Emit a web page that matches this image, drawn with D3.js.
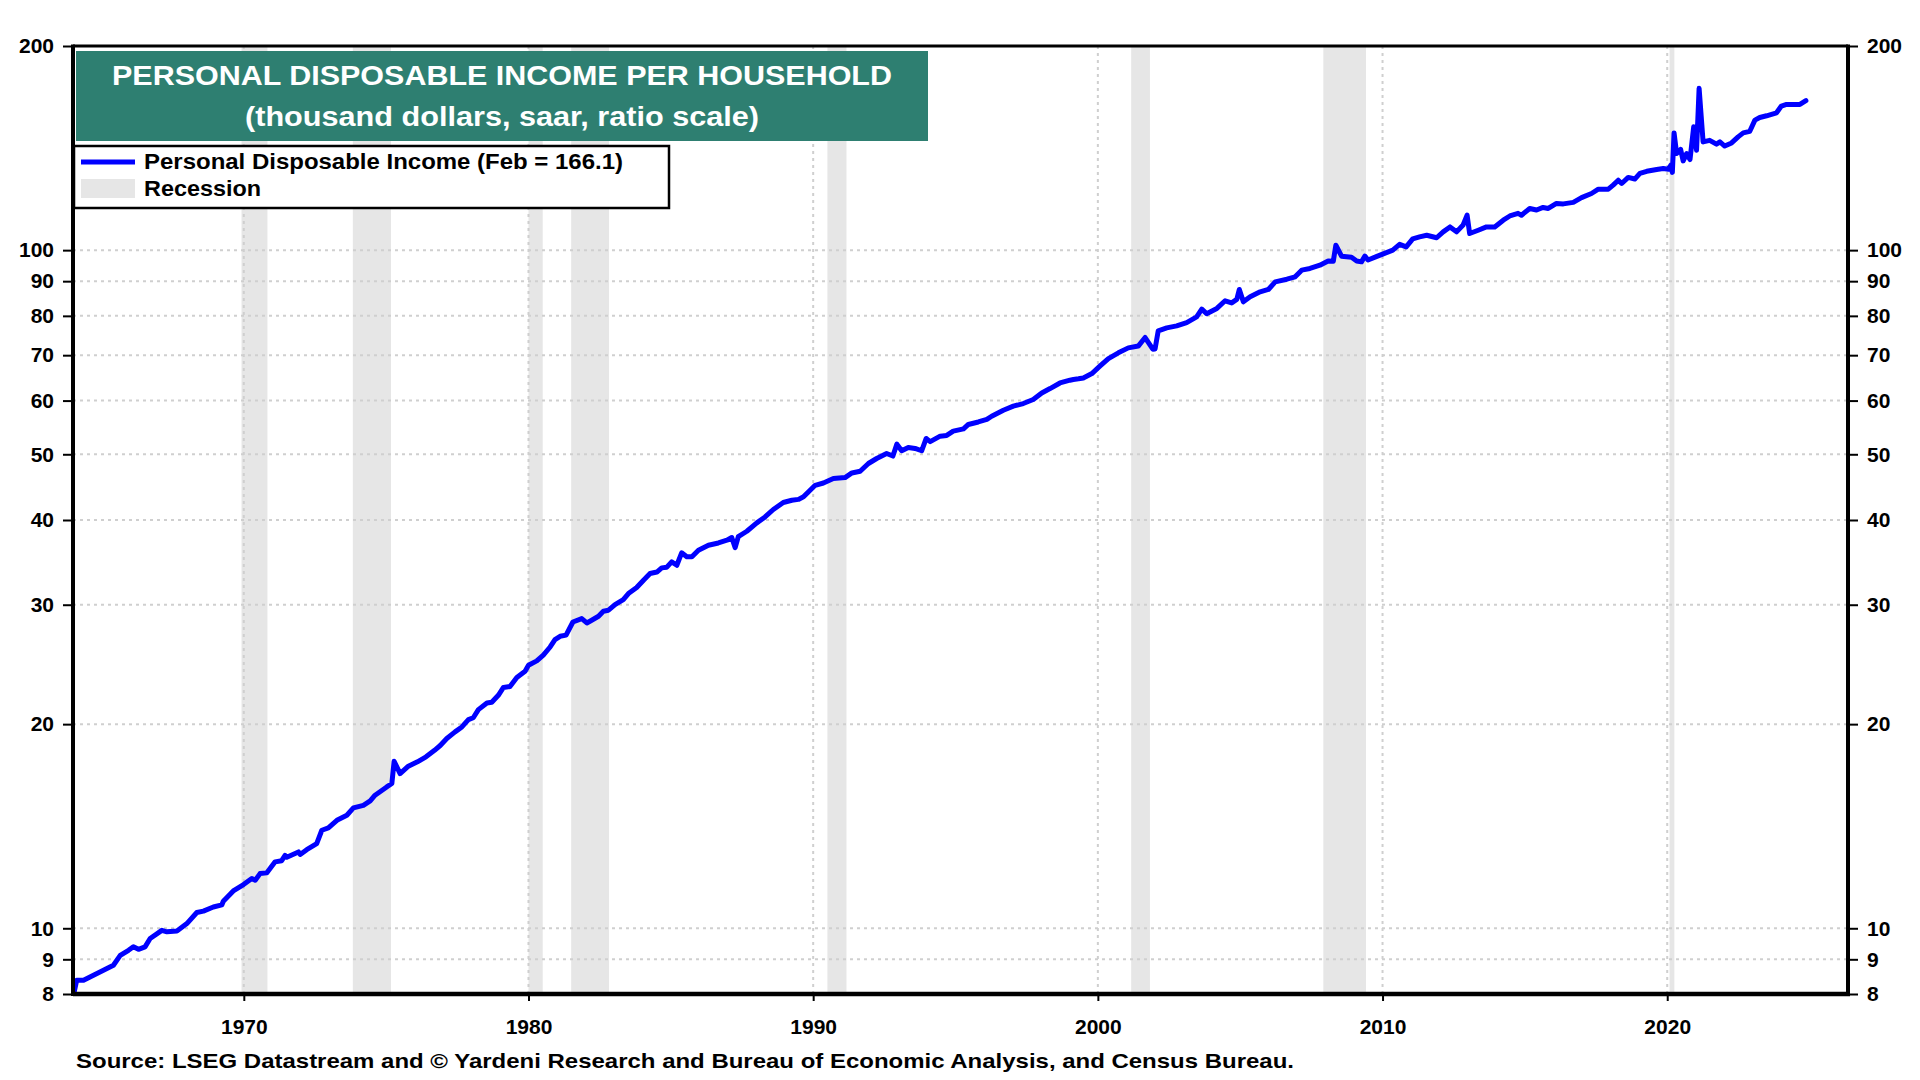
<!DOCTYPE html>
<html>
<head>
<meta charset="utf-8">
<script src="https://cdn.jsdelivr.net/npm/d3@7"></script>
<style>
  html, body { margin: 0; padding: 0; background: #ffffff; }
  svg { display: block; }
  text { font-family: "Liberation Sans", Arial, sans-serif; font-weight: bold; }
</style>
</head>
<body>
<svg id="chart" width="1920" height="1080"></svg>
<script>
// ---------- DATA ----------
const years = [
  1964.04,1964.13,1964.37,1965.07,1965.42,1965.66,1965.95,1966.12,1966.30,1966.53,1966.71,
  1967.12,1967.30,1967.65,1968.00,1968.35,1968.58,1968.93,1969.23,1969.28,1969.63,1969.99,
  1970.28,1970.40,1970.57,1970.81,1971.10,1971.33,1971.45,1971.51,1971.92,1971.98,1972.21,
  1972.56,1972.74,1972.97,1973.27,1973.62,1973.85,1974.20,1974.44,1974.61,1975.02,1975.20,
  1975.28,1975.49,1975.78,1976.10,1976.40,1976.70,1976.90,1977.13,1977.42,1977.66,1977.89,
  1978.06,1978.24,1978.54,1978.71,1978.94,1979.12,1979.35,1979.59,1979.88,1980.00,1980.29,
  1980.52,1980.76,1980.93,1981.11,1981.32,1981.56,1981.87,1982.05,1982.22,1982.46,1982.63,
  1982.81,1983.04,1983.33,1983.51,1983.80,1984.04,1984.27,1984.51,1984.68,1984.86,1985.03,
  1985.21,1985.38,1985.56,1985.74,1985.97,1986.32,1986.67,1986.97,1987.14,1987.26,1987.37,
  1987.67,1988.02,1988.31,1988.60,1988.95,1989.25,1989.48,1989.66,1989.83,1990.07,1990.36,
  1990.71,1991.12,1991.36,1991.65,1991.94,1992.23,1992.58,1992.80,1992.94,1993.11,1993.34,
  1993.58,1993.81,1993.97,1994.11,1994.46,1994.69,1994.92,1995.28,1995.45,1995.80,1996.10,
  1996.27,1996.68,1997.03,1997.38,1997.73,1998.03,1998.32,1998.67,1999.02,1999.14,1999.32,
  1999.49,1999.79,2000.08,2000.37,2000.72,2001.07,2001.42,2001.66,2001.93,2002.01,2002.12,
  2002.42,2002.77,2003.12,2003.47,2003.65,2003.82,2004.18,2004.47,2004.70,2004.88,2004.97,
  2005.11,2005.35,2005.70,2005.99,2006.23,2006.64,2006.93,2007.16,2007.45,2007.80,2008.09,
  2008.27,2008.36,2008.56,2008.91,2009.09,2009.26,2009.38,2009.49,2009.78,2010.07,2010.36,
  2010.60,2010.83,2011.06,2011.30,2011.55,2011.90,2012.13,2012.37,2012.60,2012.83,2012.97,
  2013.06,2013.36,2013.65,2013.94,2014.24,2014.47,2014.76,2014.88,2015.17,2015.41,2015.64,
  2015.82,2016.11,2016.35,2016.70,2016.99,2017.34,2017.58,2017.93,2018.10,2018.28,2018.40,
  2018.63,2018.86,2019.04,2019.28,2019.63,2019.86,2020.04,2020.13,2020.18,2020.24,2020.33,
  2020.47,2020.56,2020.68,2020.80,2020.93,2021.03,2021.12,2021.26,2021.49,2021.73,2021.85,
  2022.02,2022.26,2022.49,2022.67,2022.90,2023.08,2023.25,2023.49,2023.84,2024.01,2024.19,
  2024.66,2024.87
];
const income = [
  8.05,8.38,8.38,8.67,8.82,9.12,9.28,9.39,9.31,9.39,9.66,
  9.93,9.88,9.91,10.16,10.55,10.60,10.75,10.83,10.96,11.35,11.60,
  11.84,11.77,12.04,12.07,12.53,12.58,12.81,12.73,12.96,12.85,13.06,
  13.33,13.95,14.06,14.43,14.68,15.05,15.18,15.41,15.71,16.16,16.35,
  17.63,16.91,17.34,17.6,17.9,18.3,18.6,19.05,19.48,19.81,20.31,
  20.44,21.01,21.49,21.54,22.06,22.65,22.72,23.44,23.94,24.43,24.79,
  25.28,25.99,26.65,26.95,27.06,28.29,28.62,28.20,28.46,28.85,29.35,
  29.45,30.02,30.53,31.16,31.80,32.60,33.35,33.52,34.00,34.08,34.70,
  34.30,35.78,35.30,35.30,36.10,36.72,37.00,37.35,37.69,36.42,37.80,
  38.50,39.61,40.42,41.45,42.45,42.78,42.90,43.27,44.00,45.00,45.35,
  46.04,46.20,46.93,47.20,48.46,49.29,50.13,49.70,51.75,50.60,51.17,
  51.00,50.60,52.76,52.20,53.17,53.30,54.08,54.50,55.33,55.80,56.28,
  56.90,58.07,58.87,59.40,60.22,61.58,62.50,63.70,64.30,64.45,64.60,
  64.80,65.77,67.50,69.20,70.56,71.76,72.20,74.33,71.45,71.50,76.03,
  76.80,77.33,78.20,79.73,81.85,80.60,82.04,84.20,83.60,84.60,87.50,
  83.90,85.35,86.80,87.50,89.80,90.60,91.34,93.43,93.97,95.03,96.40,
  96.30,101.7,97.98,97.60,96.40,96.10,98.00,96.70,97.80,98.90,100.0,
  102.0,101.1,103.9,104.6,105.2,104.3,106.4,108.2,106.4,108.9,112.6,
  105.8,107.0,108.2,108.2,110.7,112.3,113.3,112.6,115.2,114.6,115.6,
  115.2,117.2,117.0,117.6,119.5,121.2,123.0,123.0,124.7,126.8,125.4,
  128.0,127.3,129.8,130.7,131.5,131.9,131.6,133.5,130.2,148.9,138.8,
  140.8,135.4,138.8,136.0,152.0,140.4,173.2,144.4,145.2,143.3,144.4,
  142.4,143.9,146.9,148.9,149.7,155.5,156.9,157.8,159.4,163.1,164.0,
  164.0,166.1
];
const recessionStart = [1969.92, 1973.83, 1980.00, 1981.50, 1990.50, 2001.17, 2007.92, 2020.08];
const recessionEnd   = [1970.83, 1975.17, 1980.50, 1982.83, 1991.17, 2001.83, 2009.42, 2020.25];
const yTickValues = [8, 9, 10, 20, 30, 40, 50, 60, 70, 80, 90, 100, 200];
const yGridValues = [9, 10, 20, 30, 40, 50, 60, 70, 80, 90, 100];
const xTickValues = [1970, 1980, 1990, 2000, 2010, 2020];
const titleLines = ["PERSONAL DISPOSABLE INCOME PER HOUSEHOLD", "(thousand dollars, saar, ratio scale)"];
const legendLabels = ["Personal Disposable Income (Feb = 166.1)", "Recession"];
const sourceText = "Source: LSEG Datastream and \u00A9 Yardeni Research and Bureau of Economic Analysis, and Census Bureau.";

// ---------- LAYOUT ----------
const L = 73, R = 1848, T = 46, B = 994;
const svg = d3.select("#chart");
const x = d3.scaleLinear().domain([1964.0, 2026.35]).range([L, R]);
const y = d3.scaleLog().domain([8, 200]).range([B, T]);

const gridColor = "#cfcfcf";
const recColor = "#e6e6e6";

// recession bands
svg.append("g").selectAll("rect")
  .data(recessionStart.map((s, i) => [s, recessionEnd[i]]))
  .join("rect")
  .attr("x", d => x(d[0]))
  .attr("width", d => x(d[1]) - x(d[0]))
  .attr("y", T).attr("height", B - T)
  .attr("fill", recColor);

// horizontal gridlines
svg.append("g").selectAll("line")
  .data(yGridValues).join("line")
  .attr("x1", L).attr("x2", R)
  .attr("y1", d => y(d)).attr("y2", d => y(d))
  .attr("stroke", gridColor).attr("stroke-width", 2)
  .attr("stroke-dasharray", "3,4");

// vertical gridlines
svg.append("g").selectAll("line")
  .data(xTickValues).join("line")
  .attr("x1", d => x(d)).attr("x2", d => x(d))
  .attr("y1", T).attr("y2", B)
  .attr("stroke", gridColor).attr("stroke-width", 2)
  .attr("stroke-dasharray", "3,4");

// data line
const line = d3.line().x((d, i) => x(years[i])).y(d => y(d)).curve(d3.curveLinear);
svg.append("path")
  .datum(income)
  .attr("d", line)
  .attr("fill", "none")
  .attr("stroke", "#0000ff")
  .attr("stroke-width", 5)
  .attr("stroke-linejoin", "round")
  .attr("stroke-linecap", "round");

// axes
const fmt = d3.format("d");
const yLeft = svg.append("g").attr("transform", `translate(${L},0)`)
  .call(d3.axisLeft(y).tickValues(yTickValues).tickFormat(fmt).tickSize(10).tickSizeOuter(0).tickPadding(9));
const yRight = svg.append("g").attr("transform", `translate(${R},0)`)
  .call(d3.axisRight(y).tickValues(yTickValues).tickFormat(fmt).tickSize(10).tickSizeOuter(0).tickPadding(9));
const xAxis = svg.append("g").attr("transform", `translate(0,${B})`)
  .call(d3.axisBottom(x).tickValues(xTickValues).tickFormat(fmt).tickSize(7).tickSizeOuter(0).tickPadding(18));

[yLeft, yRight, xAxis].forEach(g => {
  g.select(".domain").remove();
  g.selectAll(".tick line").attr("stroke", "#000").attr("stroke-width", 2);
  g.selectAll(".tick text").attr("fill", "#000").style("font-size", "21px")
   .style("font-family", "'Liberation Sans', Arial, sans-serif").style("font-weight", "bold");
});
xAxis.selectAll(".tick text").attr("dy", "0.71em");

// frame
svg.append("line").attr("x1", L).attr("x2", R).attr("y1", T).attr("y2", T)
  .attr("stroke", "#000").attr("stroke-width", 3);
svg.append("line").attr("x1", L).attr("x2", R + 2).attr("y1", B).attr("y2", B)
  .attr("stroke", "#000").attr("stroke-width", 4.5);
svg.append("line").attr("x1", L).attr("x2", L).attr("y1", T - 1.5).attr("y2", B + 2)
  .attr("stroke", "#000").attr("stroke-width", 4);
svg.append("line").attr("x1", R).attr("x2", R).attr("y1", T - 1.5).attr("y2", B + 2)
  .attr("stroke", "#000").attr("stroke-width", 4);

// title box
const tb = svg.append("g");
tb.append("rect").attr("x", 76).attr("y", 51).attr("width", 852).attr("height", 90).attr("fill", "#2e7f71");
tb.append("text").attr("x", 502).attr("y", 85).attr("text-anchor", "middle")
  .attr("fill", "#fff").style("font-size", "28px")
  .attr("textLength", 780).attr("lengthAdjust", "spacingAndGlyphs").text(titleLines[0]);
tb.append("text").attr("x", 502).attr("y", 126).attr("text-anchor", "middle")
  .attr("fill", "#fff").style("font-size", "28px")
  .attr("textLength", 514).attr("lengthAdjust", "spacingAndGlyphs").text(titleLines[1]);

// legend
const lg = svg.append("g");
lg.append("rect").attr("x", 74).attr("y", 146).attr("width", 595).attr("height", 62)
  .attr("fill", "#fff").attr("stroke", "#000").attr("stroke-width", 2.5);
lg.append("line").attr("x1", 81).attr("x2", 135).attr("y1", 162).attr("y2", 162)
  .attr("stroke", "#0000ff").attr("stroke-width", 5);
lg.append("rect").attr("x", 81).attr("y", 179).attr("width", 54).attr("height", 19).attr("fill", recColor);
lg.append("text").attr("x", 144).attr("y", 169).attr("fill", "#000").style("font-size", "22px")
  .attr("textLength", 479).attr("lengthAdjust", "spacingAndGlyphs").text(legendLabels[0]);
lg.append("text").attr("x", 144).attr("y", 196).attr("fill", "#000").style("font-size", "22px")
  .attr("textLength", 117).attr("lengthAdjust", "spacingAndGlyphs").text(legendLabels[1]);

// source
svg.append("text").attr("x", 76).attr("y", 1068).attr("fill", "#000").style("font-size", "21px")
  .attr("textLength", 1218).attr("lengthAdjust", "spacingAndGlyphs").text(sourceText);
</script>
</body>
</html>
